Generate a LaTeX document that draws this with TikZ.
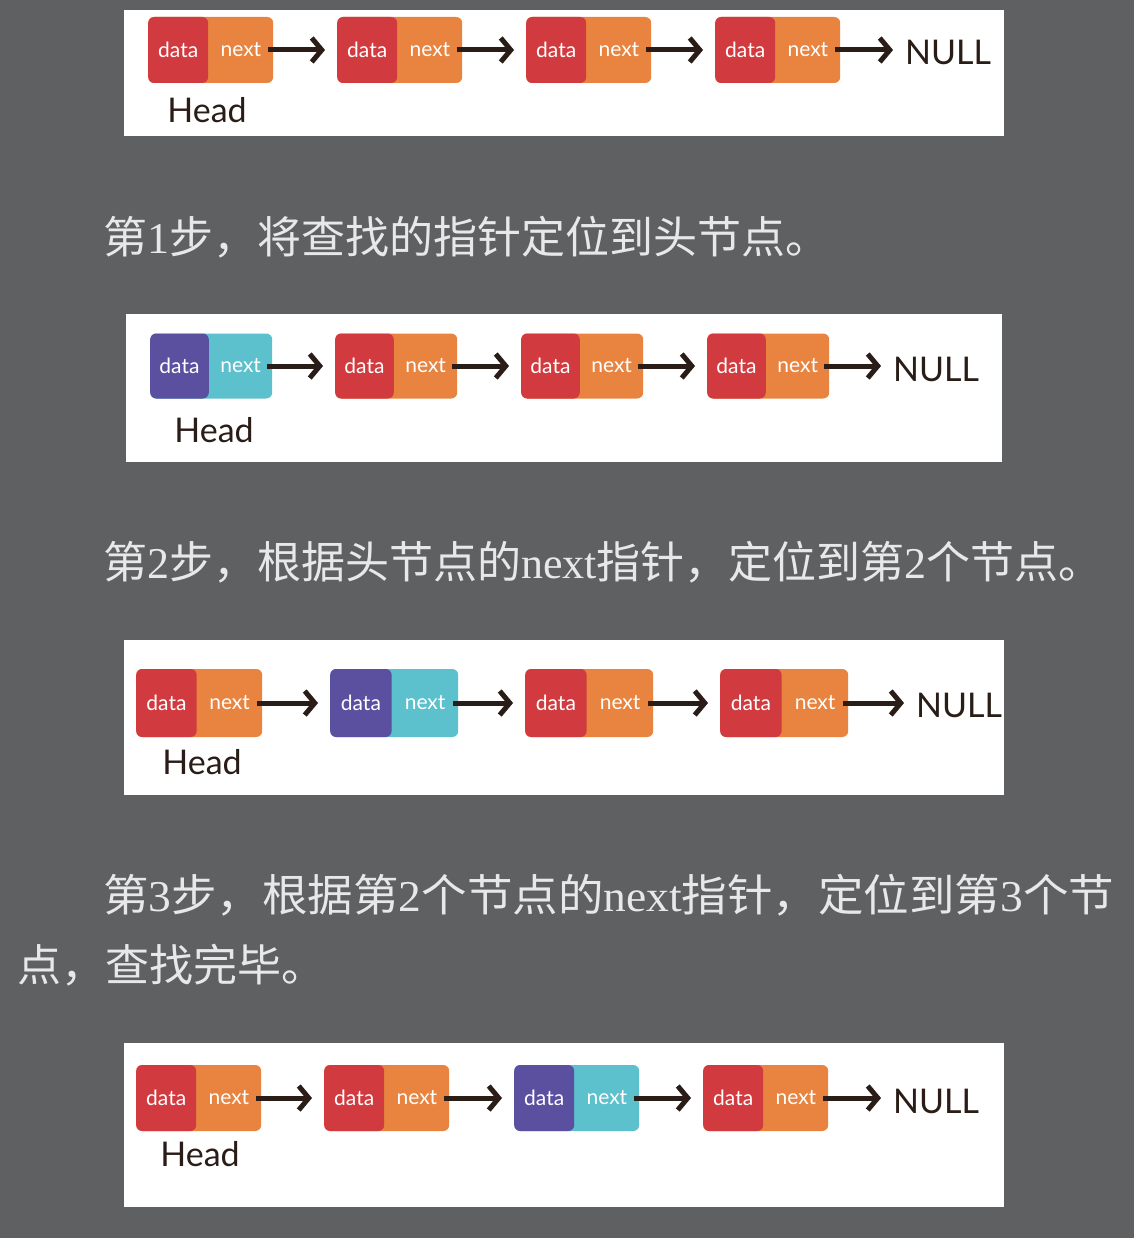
\documentclass[tikz,border=0pt]{standalone}
\usepackage{fontspec}
\setmainfont{Lato}
\newfontfamily\cjk{Noto Sans CJK SC}
\newfontfamily\lser{Liberation Serif}
\usetikzlibrary{arrows.meta,calc}
\definecolor{bgc}{HTML}{5F6062}
\definecolor{txtc}{HTML}{E8E8E8}
\definecolor{redc}{HTML}{D13B40}
\definecolor{orac}{HTML}{E8843F}
\definecolor{purc}{HTML}{5B4FA0}
\definecolor{teac}{HTML}{5CC0CD}
\definecolor{arrc}{HTML}{2A1C17}
\tikzset{
  backbox/.style={draw=none, rounded corners=6pt, inner sep=0pt},
  frontbox/.style={draw=none, rounded corners=6pt, inner sep=0pt},
  lbl/.style={text=white, font=\fontsize{21}{21}\selectfont, inner sep=0pt},
  hand/.style={text=arrc, font=\fontsize{34}{34}\selectfont, inner sep=0pt},
  arr/.style={draw=arrc, line width=5pt, -{Straight Barb[length=10pt,width=24pt]}},
  panel/.style={fill=white, draw=none},
  steptext/.style={text=txtc, font=\fontsize{44}{44}\selectfont, inner sep=0pt, anchor=west},
}
% #1 name, #2 left x, #3 center y, #4 width, #5 height, #6 back colour, #7 front colour
\newcommand\ListNode[7]{%
  \node[backbox, fill=#6, minimum width=#4pt, minimum height=#5pt, anchor=west] (#1) at (#2,#3) {};
  \node[frontbox, fill=#7, minimum width=#4pt*0.48, minimum height=#5pt, anchor=west] (#1-d) at (#1.west) {};
  \node[lbl] (#1-dt) at (#1-d.center) {data};
  \node[lbl] (#1-nt) at ($(#1-d.east)!0.5!(#1.east)$) {next};
}
% #1 first node, #2 second node (arrow between them)
\newcommand\LinkArrow[2]{%
  \draw[arr] ([xshift=-5pt]#1.east) -- ($(#1.east -| #2.west)+(-12,0)$);
}
\begin{document}
\begin{tikzpicture}[x=1pt, y=-1pt]
\useasboundingbox (0,0) rectangle (1134,1238);
\fill[bgc] (0,0) rectangle (1134,1238);

% ---------- panel 1 ----------
\fill[panel] (124,10) rectangle (1004,136);
\ListNode{a1}{148}{50}{125}{66}{orac}{redc}
\ListNode{a2}{337}{50}{125}{66}{orac}{redc}
\ListNode{a3}{526}{50}{125}{66}{orac}{redc}
\ListNode{a4}{715}{50}{125}{66}{orac}{redc}
\node[hand, anchor=west] (anull) at (905,52) {NULL};
\node[hand] (ahead) at (207,110) {Head};
\LinkArrow{a1}{a2}
\LinkArrow{a2}{a3}
\LinkArrow{a3}{a4}
\LinkArrow{a4}{anull}

\node[steptext] (t1) at (103,237) {{\cjk 第}{\lser 1}{\cjk 步，将查找的指针定位到头节点。}};

% ---------- panel 2 ----------
\fill[panel] (126,314) rectangle (1002,462);
\ListNode{b1}{150}{366}{122}{65}{teac}{purc}
\ListNode{b2}{335}{366}{122}{65}{orac}{redc}
\ListNode{b3}{521}{366}{122}{65}{orac}{redc}
\ListNode{b4}{707}{366}{122}{65}{orac}{redc}
\node[hand, anchor=west] (bnull) at (893,369) {NULL};
\node[hand] (bhead) at (214,430) {Head};
\LinkArrow{b1}{b2}
\LinkArrow{b2}{b3}
\LinkArrow{b3}{b4}
\LinkArrow{b4}{bnull}

\node[steptext] (t2) at (103,562) {{\cjk 第}{\lser 2}{\cjk 步，根据头节点的}{\lser next}{\cjk 指针，定位到第}{\lser 2}{\cjk 个节点。}};

% ---------- panel 3 ----------
\fill[panel] (124,640) rectangle (1004,795);
\ListNode{c1}{136}{703}{126}{68}{orac}{redc}
\ListNode{c2}{330}{703}{128}{68}{teac}{purc}
\ListNode{c3}{525}{703}{128}{68}{orac}{redc}
\ListNode{c4}{720}{703}{128}{68}{orac}{redc}
\node[hand, anchor=west] (cnull) at (916,705) {NULL};
\node[hand] (chead) at (202,762) {Head};
\LinkArrow{c1}{c2}
\LinkArrow{c2}{c3}
\LinkArrow{c3}{c4}
\LinkArrow{c4}{cnull}

\node[steptext] (t3a) at (103,895) {\scalebox{1.034}[1]{{\cjk 第}{\lser 3}{\cjk 步，根据第}{\lser 2}{\cjk 个节点的}{\lser next}{\cjk 指针，定位到第}{\lser 3}{\cjk 个节}}};
\node[steptext] (t3b) at (17,965) {{\cjk 点，查找完毕。}};

% ---------- panel 4 ----------
\fill[panel] (124,1043) rectangle (1004,1207);
\ListNode{d1}{136}{1098}{125}{66}{orac}{redc}
\ListNode{d2}{324}{1098}{125}{66}{orac}{redc}
\ListNode{d3}{514}{1098}{125}{66}{teac}{purc}
\ListNode{d4}{703}{1098}{125}{66}{orac}{redc}
\node[hand, anchor=west] (dnull) at (893,1101) {NULL};
\node[hand] (dhead) at (200,1154) {Head};
\LinkArrow{d1}{d2}
\LinkArrow{d2}{d3}
\LinkArrow{d3}{d4}
\LinkArrow{d4}{dnull}
\end{tikzpicture}
\end{document}
